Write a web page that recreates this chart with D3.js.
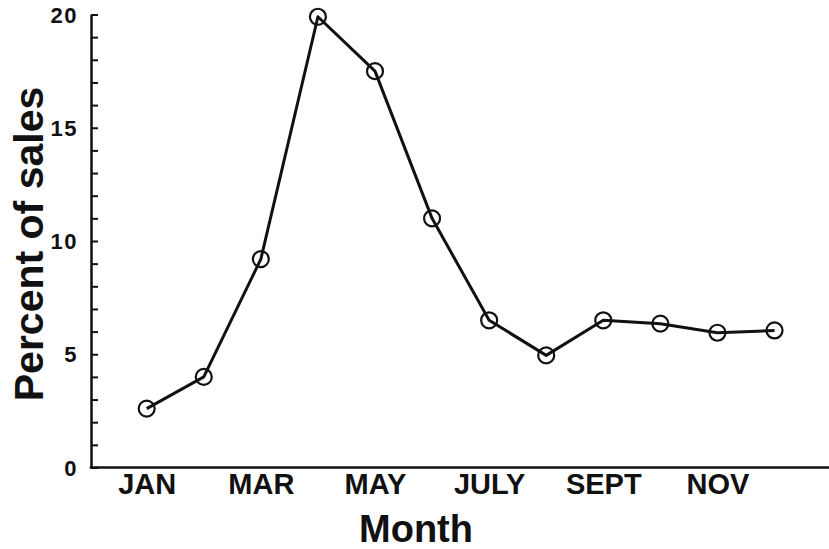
<!DOCTYPE html>
<html>
<head>
<meta charset="utf-8">
<script src="https://cdn.jsdelivr.net/npm/d3@7"></script>
<style>
  body{ margin: 0; background: #fff; }
  svg{ display: block; }
</style>
</head>
<body>
<div id="chart"></div>
<script>

// Data.
var months = [ 'JAN', 'FEB', 'MAR', 'APR', 'MAY', 'JUNE', 'JULY', 'AUG', 'SEPT', 'OCT', 'NOV', 'DEC' ];
var percent_of_sales = [ 2.6, 4.0, 9.2, 19.9, 17.5, 11.0, 6.5, 4.95, 6.5, 6.35, 5.95, 6.05 ];
var month_labels = [ 'JAN', 'MAR', 'MAY', 'JULY', 'SEPT', 'NOV' ];
var y_tick_values = d3.range( 0, 21, 1 );
var y_tick_labels = [ 0, 5, 10, 15, 20 ];

var width = 829;
var height = 549;
var font = '"Liberation Sans", Arial, Helvetica, sans-serif';

var svg = d3.select( '#chart' )
  .append( 'svg' )
    .attr( 'width', width )
    .attr( 'height', height );

// Scales.
var x_scale = d3.scalePoint()
  .domain( months )
  .range( [ 146.7, 774.5 ] );

var y_scale = d3.scaleLinear()
  .domain( [ 0, 20 ] )
  .range( [ 467.5, 14.5 ] );

var axis_x = 91;

// Y axis, ticks point inward (to the right).
var y_axis = svg.append( 'g' )
  .attr( 'transform', 'translate(' + axis_x + ',0)' )
  .call( d3.axisLeft( y_scale )
    .tickValues( y_tick_values )
    .tickSizeInner( -7 )
    .tickSizeOuter( 0 )
    .tickPadding( 13 )
    .tickFormat( function( d ){ return y_tick_labels.indexOf( d ) > -1 ? d : ''; } ) );
y_axis.select( '.domain' )
  .attr( 'stroke', '#111' )
  .attr( 'stroke-width', 2.5 );
y_axis.selectAll( '.tick line' )
  .attr( 'stroke', '#111' )
  .attr( 'stroke-width', 2 );
y_axis.selectAll( '.tick text' )
  .attr( 'fill', '#111' )
  .attr( 'font-family', font )
  .attr( 'font-weight', 'bold' )
  .attr( 'font-size', 22 )
  .attr( 'letter-spacing', 1.5 )
  .attr( 'dy', '0.35em' );

// X axis line runs to the right edge, no ticks.
svg.append( 'line' )
  .attr( 'x1', axis_x - 1.25 )
  .attr( 'x2', width )
  .attr( 'y1', y_scale( 0 ) )
  .attr( 'y2', y_scale( 0 ) )
  .attr( 'stroke', '#111' )
  .attr( 'stroke-width', 2.5 );

var x_axis = svg.append( 'g' )
  .attr( 'transform', 'translate(0,' + y_scale( 0 ) + ')' )
  .call( d3.axisBottom( x_scale )
    .tickValues( month_labels )
    .tickSize( 0 ) );
x_axis.select( '.domain' ).remove();
x_axis.selectAll( '.tick text' )
  .attr( 'fill', '#111' )
  .attr( 'font-family', font )
  .attr( 'font-weight', 'bold' )
  .attr( 'font-size', 29 )
  .attr( 'y', 26.5 )
  .attr( 'dy', 0 );

// The line.
var points = months.map( function( m, i ){ return { month: m, value: percent_of_sales[ i ] }; } );

var line = d3.line()
  .x( function( d ){ return x_scale( d.month ); } )
  .y( function( d ){ return y_scale( d.value ); } );

svg.append( 'path' )
  .datum( points )
  .attr( 'd', line )
  .attr( 'fill', 'none' )
  .attr( 'stroke', '#111' )
  .attr( 'stroke-width', 3 )
  .attr( 'stroke-linejoin', 'round' );

// Hollow circle markers.
svg.append( 'g' )
  .selectAll( 'circle' )
  .data( points )
  .enter()
  .append( 'circle' )
    .attr( 'cx', function( d ){ return x_scale( d.month ); } )
    .attr( 'cy', function( d ){ return y_scale( d.value ); } )
    .attr( 'r', 8 )
    .attr( 'fill', 'none' )
    .attr( 'stroke', '#111' )
    .attr( 'stroke-width', 2.2 );

// Axis titles.
svg.append( 'text' )
  .attr( 'x', 416 )
  .attr( 'y', 542 )
  .attr( 'text-anchor', 'middle' )
  .attr( 'font-family', font )
  .attr( 'font-weight', 'bold' )
  .attr( 'font-size', 38 )
  .attr( 'fill', '#111' )
  .text( 'Month' );

svg.append( 'g' )
  .attr( 'transform', 'translate(43,244)' )
  .append( 'text' )
    .attr( 'text-anchor', 'middle' )
    .attr( 'transform', 'rotate(-90)' )
    .attr( 'font-family', font )
    .attr( 'font-weight', 'bold' )
    .attr( 'font-size', 41 )
    .attr( 'fill', '#111' )
    .text( 'Percent of sales' );

</script>
</body>
</html>
